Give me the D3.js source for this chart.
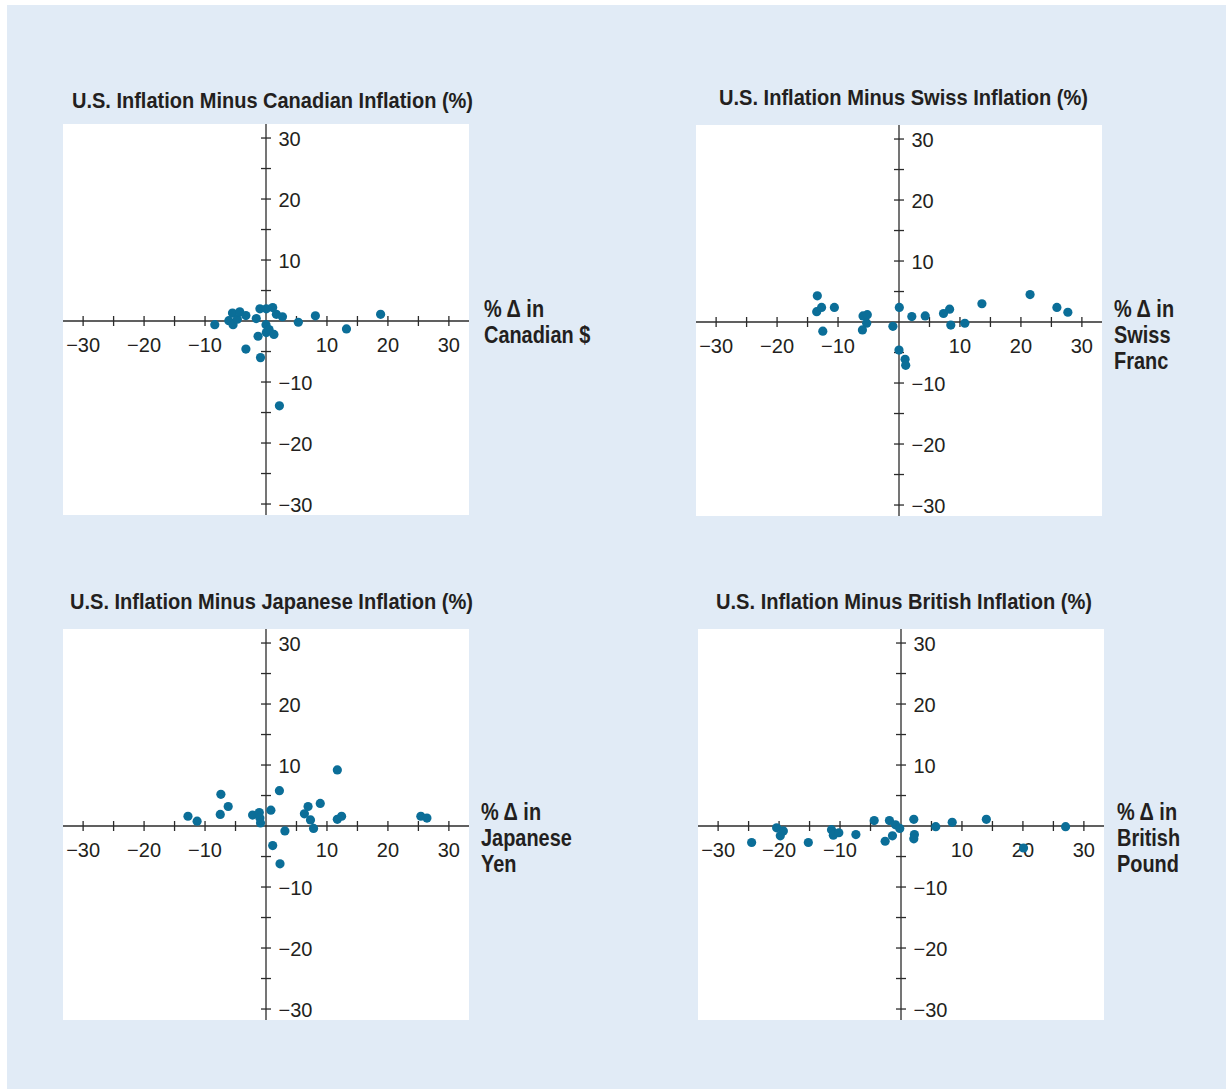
<!DOCTYPE html>
<html><head><meta charset="utf-8">
<script src="https://cdn.jsdelivr.net/npm/d3@7"></script>
<style>
html,body{margin:0;padding:0;background:#fff;}
svg{display:block;}
text{font-family:"Liberation Sans Narrow","Arial Narrow","Liberation Sans",Arial,sans-serif;fill:#231f20;}
</style></head>
<body>
<svg id="chart" width="1232" height="1089"></svg>
<script>
// ---- data ----
const panelTitles = [
  "U.S. Inflation Minus Canadian Inflation (%)",
  "U.S. Inflation Minus Swiss Inflation (%)",
  "U.S. Inflation Minus Japanese Inflation (%)",
  "U.S. Inflation Minus British Inflation (%)"
];
const axisNames = [
  ["% \u0394 in", "Canadian $"],
  ["% \u0394 in", "Swiss", "Franc"],
  ["% \u0394 in", "Japanese", "Yen"],
  ["% \u0394 in", "British", "Pound"]
];
// [% change in currency, inflation differential]
const canadianPoints = [
  [-8.4,-0.6],[-6.1,0.05],[-5.5,1.3],[-5.4,-0.6],[-4.7,0.3],[-4.3,1.5],[-3.3,0.9],
  [-1.6,0.4],[-1.0,2.0],[0.05,2.0],[1.1,2.2],[1.7,1.1],[2.7,0.7],[5.3,-0.2],
  [8.1,0.85],[18.8,1.1],[13.2,-1.3],[0,-0.6],[-1.3,-2.5],[0.05,-1.9],[0.5,-1.4],
  [1.3,-2.2],[-3.3,-4.6],[-0.9,-6.0],[2.2,-13.9]
];
const swissPoints = [
  [-13.4,4.3],[-13.5,1.7],[-12.7,2.4],[-12.5,-1.5],[-10.6,2.4],[-5.9,1.0],[-5.2,1.2],
  [-5.3,-0.2],[-6.0,-1.3],[-1.0,-0.7],[0.05,2.4],[2.1,0.9],[4.3,1.0],[7.3,1.4],
  [8.3,2.1],[8.5,-0.5],[10.8,-0.2],[13.6,3.0],[21.5,4.5],[25.9,2.4],[27.7,1.6],
  [0,-4.6],[1.0,-6.1],[1.1,-7.1]
];
const japanesePoints = [
  [-12.8,1.6],[-11.3,0.8],[-7.5,1.9],[-7.4,5.2],[-6.2,3.2],[-2.2,1.8],[-1.1,2.2],
  [-1.0,1.3],[-0.9,0.5],[0.8,2.6],[2.2,5.8],[3.1,-0.8],[1.1,-3.2],[2.3,-6.2],
  [6.3,2.0],[6.9,3.2],[7.3,1.0],[7.8,-0.4],[8.9,3.7],[11.7,9.2],[11.7,1.1],
  [12.4,1.6],[25.4,1.6],[26.4,1.3]
];
const britishPoints = [
  [-24.5,-2.7],[-20.4,-0.3],[-19.8,-1.6],[-19.3,-0.8],[-15.2,-2.7],[-11.4,-0.6],
  [-11.1,-1.5],[-10.2,-1.1],[-7.4,-1.4],[-4.4,0.9],[-2.6,-2.5],[-1.9,0.9],
  [-1.4,-1.6],[-0.9,0.2],[-0.2,-0.4],[2.1,1.1],[2.2,-1.4],[2.1,-2.1],[5.7,-0.1],
  [8.4,0.6],[14.0,1.1],[20.1,-3.6],[27.0,-0.1]
];
const tickValues = [-30,-25,-20,-15,-10,-5,5,10,15,20,25,30];
const labelValues = [-30,-20,-10,10,20,30];

// ---- layout ----
const panels = [
  {title:panelTitles[0], names:axisNames[0], pts:canadianPoints, px:63, py:124, tx:72, tw:401, ty:108, nx:484, ny:317},
  {title:panelTitles[1], names:axisNames[1], pts:swissPoints, px:696, py:125, tx:719, tw:369, ty:105, nx:1114, ny:317},
  {title:panelTitles[2], names:axisNames[2], pts:japanesePoints, px:63, py:629, tx:70, tw:403, ty:609, nx:481, ny:820},
  {title:panelTitles[3], names:axisNames[3], pts:britishPoints, px:698, py:629, tx:716, tw:376, ty:609, nx:1117, ny:820}
];
const PW = 406, PH = 391;
const dotColor = "#0b6e98";
const axisColor = "#2b2b2b";

const svg = d3.select("#chart");
svg.append("rect").attr("x",0).attr("y",0).attr("width",1232).attr("height",1089).attr("fill","#fff");
svg.append("rect").attr("x",7).attr("y",5).attr("width",1219).attr("height",1084).attr("fill","#e1ebf6");

const fmt = v => v < 0 ? "\u2212" + Math.abs(v) : String(v);

panels.forEach(p => {
  const g = svg.append("g");
  g.append("rect").attr("x",p.px).attr("y",p.py).attr("width",PW).attr("height",PH).attr("fill","#fff");
  const x = d3.scaleLinear().domain([-33.3,33.3]).range([p.px, p.px+PW]);
  const y = d3.scaleLinear().domain([32.3,-31.8]).range([p.py, p.py+PH]);
  const x0 = x(0), y0 = y(0);

  // axes lines
  g.append("line").attr("x1",p.px).attr("x2",p.px+PW).attr("y1",y0).attr("y2",y0)
    .attr("stroke",axisColor).attr("stroke-width",1.3);
  g.append("line").attr("x1",x0).attr("x2",x0).attr("y1",p.py).attr("y2",p.py+PH)
    .attr("stroke",axisColor).attr("stroke-width",1.3);
  // ticks
  g.selectAll(".xt").data(tickValues).join("line")
    .attr("x1",d=>x(d)).attr("x2",d=>x(d)).attr("y1",y0-5).attr("y2",y0+5)
    .attr("stroke",axisColor).attr("stroke-width",1.3);
  g.selectAll(".yt").data(tickValues).join("line")
    .attr("y1",d=>y(d)).attr("y2",d=>y(d)).attr("x1",x0-5).attr("x2",x0+5)
    .attr("stroke",axisColor).attr("stroke-width",1.3);
  // tick labels
  g.selectAll(".xl").data(labelValues).join("text")
    .attr("x",d=>x(d)).attr("y",y0+31).attr("text-anchor","middle")
    .attr("font-size",20).text(fmt);
  g.selectAll(".yl").data(labelValues).join("text")
    .attr("x",x0+12.5).attr("y",d=>y(d)+8).attr("text-anchor","start")
    .attr("font-size",20).text(fmt);
  // points
  g.selectAll("circle").data(p.pts).join("circle")
    .attr("cx",d=>x(d[0])).attr("cy",d=>y(d[1])).attr("r",4.6).attr("fill",dotColor);
  // title
  g.append("text").attr("x",p.tx).attr("y",p.ty).attr("font-size",22).attr("font-weight","bold")
    .attr("textLength",p.tw).attr("lengthAdjust","spacingAndGlyphs").text(p.title);
  // axis name (condensed bold)
  p.names.forEach((s,i) => {
    g.append("text").attr("transform",`translate(${p.nx},${p.ny+i*26}) scale(0.83,1)`)
      .attr("font-size",24).attr("font-weight","bold").text(s);
  });
});
</script>
</body></html>
